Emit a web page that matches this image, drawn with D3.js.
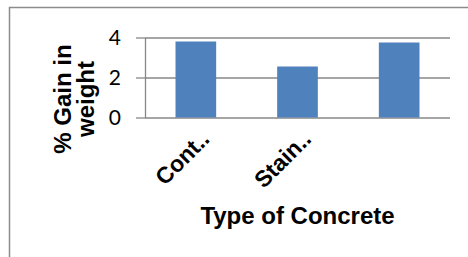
<!DOCTYPE html>
<html lang="en">
<head>
<meta charset="utf-8">
<title>Gain in weight</title>
<script src="https://cdn.jsdelivr.net/npm/d3@7/dist/d3.min.js"></script>
<style type="text/css">
  body { margin: 0; background: #ffffff; }
  .axis_title { font-family: "Liberation Sans", Arial, sans-serif; font-weight: bold; font-size: 24px; fill: #000; }
</style>
</head>
<body>
<script type="text/javascript">
// values
var categories = ["Cont..", "Stain..", ""];
var gainValues = [3.8, 2.55, 3.75];
var yTicks = [0, 2, 4];

var svgWidth = 468;
var svgHeight = 257;
var plotLeft = 145;
var plotRight = 450;
var plotTop = 37.5;
var plotBottom = 117.5;
var gridColor = "#878787";
var barColor = "#4f81bd";

var svg = d3.select("body")
    .append("svg")
    .attr("width", svgWidth)
    .attr("height", svgHeight);

// chart area border (right and bottom edges fall outside the picture)
svg.append("rect")
    .attr("x", 9.5)
    .attr("y", 7.5)
    .attr("width", 480)
    .attr("height", 280)
    .attr("fill", "none")
    .attr("stroke", "#8c8c8c")
    .attr("stroke-width", 1.5);

var xScale = d3.scaleBand()
    .domain(categories)
    .range([plotLeft, plotRight])
    .paddingInner(0.6)
    .paddingOuter(0.3);

var yScale = d3.scaleLinear()
    .domain([0, 4])
    .range([plotBottom, plotTop]);

// gridlines
var grid = svg.append("g")
    .attr("transform", "translate(" + plotLeft + ",0)")
    .call(d3.axisLeft(yScale).tickValues(yTicks).tickSize(-(plotRight - plotLeft)).tickFormat(""));
grid.select(".domain").remove();
grid.selectAll("line").attr("stroke", gridColor).attr("stroke-width", 1.3);

// bars
svg.selectAll("rect.bar")
    .data(gainValues)
    .enter()
    .append("rect")
    .attr("class", "bar")
    .attr("x", function(d, i) { return xScale(categories[i]); })
    .attr("y", function(d) { return yScale(d); })
    .attr("width", xScale.bandwidth())
    .attr("height", function(d) { return yScale(0) - yScale(d); })
    .attr("fill", barColor);

// value axis with outside ticks
var yAxis = svg.append("g")
    .attr("transform", "translate(" + plotLeft + ",0)")
    .call(d3.axisLeft(yScale).tickValues(yTicks).tickFormat(d3.format("d"))
        .tickSize(9).tickSizeOuter(0).tickPadding(15));
yAxis.select(".domain").attr("stroke", gridColor).attr("stroke-width", 1.3);
yAxis.selectAll("line").attr("stroke", gridColor).attr("stroke-width", 1.3);
yAxis.selectAll("text")
    .attr("font-family", "Lato, 'Open Sans', sans-serif")
    .attr("font-size", "21px")
    .attr("fill", "#000");

// category axis, labels slanted
var xAxis = svg.append("g")
    .attr("transform", "translate(0," + plotBottom + ")")
    .call(d3.axisBottom(xScale).tickSize(0).tickSizeOuter(0));
xAxis.select(".domain").remove();
xAxis.selectAll("text")
    .attr("font-family", "'Liberation Sans', Arial, sans-serif")
    .attr("font-weight", "bold")
    .attr("font-size", "23px")
    .attr("fill", "#000")
    .attr("text-anchor", "end")
    .attr("dy", null)
    .attr("y", 0)
    .attr("transform", "translate(15,23) rotate(-45)");

// axis titles
svg.append("text")
    .attr("class", "axis_title")
    .attr("x", (plotLeft + plotRight) / 2)
    .attr("y", 224)
    .attr("text-anchor", "middle")
    .text("Type of Concrete");

var yTitle = svg.append("text")
    .attr("class", "axis_title")
    .attr("text-anchor", "middle")
    .attr("transform", "translate(0,99) rotate(-90)");
yTitle.append("tspan").attr("x", 0).attr("y", 71).text("% Gain in");
yTitle.append("tspan").attr("x", 0).attr("y", 94).text("weight");
</script>
</body>
</html>
